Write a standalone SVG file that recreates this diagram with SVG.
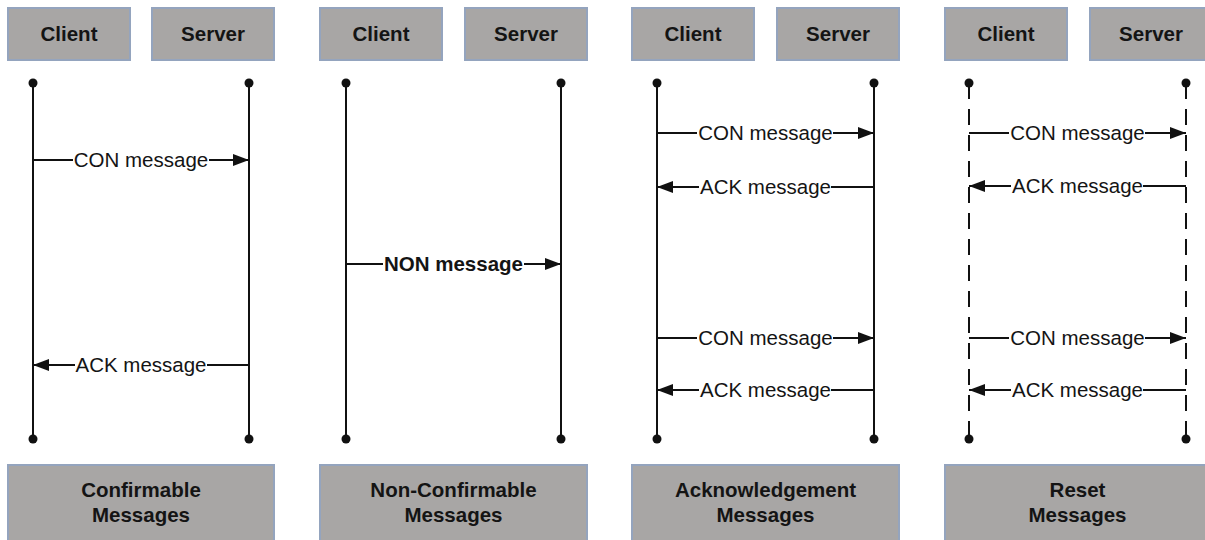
<svg xmlns="http://www.w3.org/2000/svg" width="1205" height="540" viewBox="0 0 1205 540">
  <defs>
    <style>
      .box { fill: #a8a6a5; stroke: #94a4be; stroke-width: 2; }
      .hdr { font-family: "Liberation Sans", Arial, sans-serif; font-size: 20.5px; font-weight: bold; fill: #141414; text-anchor: middle; }
      .life { stroke: #111; stroke-width: 2; fill: none; }
      .dash { stroke-dasharray: 16 10; }
      .dot { fill: #111; }
      .msg { stroke: #111; stroke-width: 2; fill: none; marker-end: url(#ah); }
      .lbl { font-family: "Liberation Sans", Arial, sans-serif; font-size: 20.5px; fill: #141414; text-anchor: middle; }
      .bold { font-weight: bold; }
      .bg { fill: #fff; }
    </style>
    <marker id="ah" viewBox="0 0 16 12" refX="16" refY="6" markerWidth="16" markerHeight="12" orient="auto" markerUnits="userSpaceOnUse">
      <path d="M0,0 L16,6 L0,12 Z" fill="#111"/>
    </marker>
  </defs>
  <rect width="1205" height="540" fill="#fff"/>

  <!-- Panel 1: Confirmable -->
  <g id="p1-client"><rect class="box" x="8" y="8" width="122" height="52"/><text class="hdr" x="69" y="41">Client</text></g>
  <g id="p1-server"><rect class="box" x="152" y="8" width="122" height="52"/><text class="hdr" x="213" y="41">Server</text></g>
  <g id="p1-title"><rect class="box" x="8" y="465" width="266" height="80"/><text class="hdr" x="141" y="497">Confirmable</text><text class="hdr" x="141" y="522">Messages</text></g>

  <!-- Panel 2: Non-Confirmable -->
  <g id="p2-client"><rect class="box" x="320" y="8" width="122" height="52"/><text class="hdr" x="381" y="41">Client</text></g>
  <g id="p2-server"><rect class="box" x="465" y="8" width="122" height="52"/><text class="hdr" x="526" y="41">Server</text></g>
  <g id="p2-title"><rect class="box" x="320" y="465" width="267" height="80"/><text class="hdr" x="453.5" y="497">Non-Confirmable</text><text class="hdr" x="453.5" y="522">Messages</text></g>

  <!-- Panel 3: Acknowledgement -->
  <g id="p3-client"><rect class="box" x="632" y="8" width="122" height="52"/><text class="hdr" x="693" y="41">Client</text></g>
  <g id="p3-server"><rect class="box" x="777" y="8" width="122" height="52"/><text class="hdr" x="838" y="41">Server</text></g>
  <g id="p3-title"><rect class="box" x="632" y="465" width="267" height="80"/><text class="hdr" x="765.5" y="497">Acknowledgement</text><text class="hdr" x="765.5" y="522">Messages</text></g>

  <!-- Panel 4: Reset -->
  <g id="p4-client"><rect class="box" x="945" y="8" width="122" height="52"/><text class="hdr" x="1006" y="41">Client</text></g>
  <g id="p4-server"><rect class="box" x="1090" y="8" width="122" height="52"/><text class="hdr" x="1151" y="41">Server</text></g>
  <g id="p4-title"><rect class="box" x="945" y="465" width="267" height="80"/><text class="hdr" x="1077.5" y="497">Reset</text><text class="hdr" x="1077.5" y="522">Messages</text></g>

  <!-- Lifelines with end dots -->
  <g id="lifelines">
    <line class="life" x1="33" y1="83" x2="33" y2="439"/>
    <line class="life" x1="249" y1="83" x2="249" y2="439"/>
    <line class="life" x1="346" y1="83" x2="346" y2="439"/>
    <line class="life" x1="561" y1="83" x2="561" y2="439"/>
    <line class="life" x1="657" y1="83" x2="657" y2="439"/>
    <line class="life" x1="874" y1="83" x2="874" y2="439"/>
    <line class="life dash" x1="969" y1="83" x2="969" y2="439"/>
    <line class="life dash" x1="1186" y1="83" x2="1186" y2="439"/>
    <g class="dot">
      <circle cx="33" cy="83" r="4.5"/><circle cx="33" cy="439" r="4.5"/>
      <circle cx="249" cy="83" r="4.5"/><circle cx="249" cy="439" r="4.5"/>
      <circle cx="346" cy="83" r="4.5"/><circle cx="346" cy="439" r="4.5"/>
      <circle cx="561" cy="83" r="4.5"/><circle cx="561" cy="439" r="4.5"/>
      <circle cx="657" cy="83" r="4.5"/><circle cx="657" cy="439" r="4.5"/>
      <circle cx="874" cy="83" r="4.5"/><circle cx="874" cy="439" r="4.5"/>
      <circle cx="969" cy="83" r="4.5"/><circle cx="969" cy="439" r="4.5"/>
      <circle cx="1186" cy="83" r="4.5"/><circle cx="1186" cy="439" r="4.5"/>
    </g>
  </g>

  <!-- Messages -->
  <g id="connectors">
    <!-- Panel 1 -->
    <line class="msg" x1="33" y1="160" x2="249" y2="160"/>
    <rect class="bg" x="73" y="150" width="136" height="20"/>
    <text class="lbl" x="141" y="167">CON message</text>
    <line class="msg" x1="249" y1="365" x2="33" y2="365"/>
    <rect class="bg" x="75" y="355" width="132" height="20"/>
    <text class="lbl" x="141" y="372">ACK message</text>

    <!-- Panel 2 -->
    <line class="msg" x1="346" y1="264" x2="561" y2="264"/>
    <rect class="bg" x="383" y="254" width="141" height="20"/>
    <text class="lbl bold" x="453.5" y="271">NON message</text>

    <!-- Panel 3 -->
    <line class="msg" x1="657" y1="133" x2="874" y2="133"/>
    <rect class="bg" x="697" y="123" width="136" height="20"/>
    <text class="lbl" x="765.5" y="140">CON message</text>
    <line class="msg" x1="874" y1="187" x2="657" y2="187"/>
    <rect class="bg" x="699" y="177" width="132" height="20"/>
    <text class="lbl" x="765.5" y="194">ACK message</text>
    <line class="msg" x1="657" y1="338" x2="874" y2="338"/>
    <rect class="bg" x="697" y="328" width="136" height="20"/>
    <text class="lbl" x="765.5" y="345">CON message</text>
    <line class="msg" x1="874" y1="390" x2="657" y2="390"/>
    <rect class="bg" x="699" y="380" width="132" height="20"/>
    <text class="lbl" x="765.5" y="397">ACK message</text>

    <!-- Panel 4 -->
    <line class="msg" x1="969" y1="133" x2="1186" y2="133"/>
    <rect class="bg" x="1009" y="123" width="136" height="20"/>
    <text class="lbl" x="1077.5" y="140">CON message</text>
    <line class="msg" x1="1186" y1="186" x2="969" y2="186"/>
    <rect class="bg" x="1011" y="176" width="132" height="20"/>
    <text class="lbl" x="1077.5" y="193">ACK message</text>
    <line class="msg" x1="969" y1="338" x2="1186" y2="338"/>
    <rect class="bg" x="1009" y="328" width="136" height="20"/>
    <text class="lbl" x="1077.5" y="345">CON message</text>
    <line class="msg" x1="1186" y1="390" x2="969" y2="390"/>
    <rect class="bg" x="1011" y="380" width="132" height="20"/>
    <text class="lbl" x="1077.5" y="397">ACK message</text>
  </g>
</svg>
